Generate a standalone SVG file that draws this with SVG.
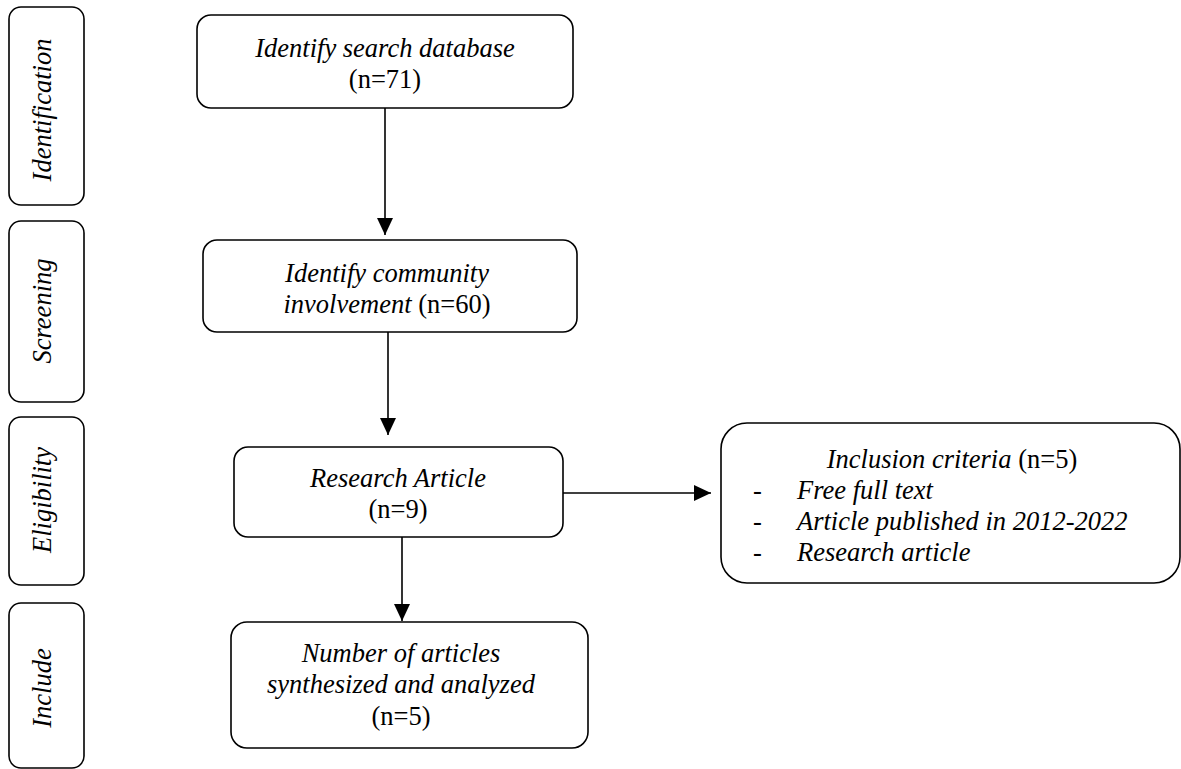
<svg xmlns="http://www.w3.org/2000/svg" width="1181" height="769" viewBox="0 0 1181 769">
<style>
  .box{fill:#fff;stroke:#000;stroke-width:1.6}
  .t{font-family:"Liberation Serif","Times New Roman",serif;font-size:26.5px;fill:#000}
  .i{font-style:italic}
  .c{text-anchor:middle}
  .conn{stroke:#000;stroke-width:1.6;fill:none;marker-end:url(#ah)}
</style>
<defs>
  <marker id="ah" markerUnits="userSpaceOnUse" markerWidth="18" markerHeight="16" refX="17" refY="8" orient="auto">
    <path d="M0,0 L17,8 L0,16 z" fill="#000"/>
  </marker>
</defs>
<rect width="1181" height="769" fill="#fff"/>

<g id="phase-identification">
  <rect class="box" x="9" y="7" width="75" height="198" rx="12"/>
  <text class="t i c" transform="translate(51,110) rotate(-90)">Identification</text>
</g>
<g id="phase-screening">
  <rect class="box" x="9" y="221" width="75" height="181" rx="12"/>
  <text class="t i c" transform="translate(51,311) rotate(-90)">Screening</text>
</g>
<g id="phase-eligibility">
  <rect class="box" x="9" y="417" width="75" height="168" rx="12"/>
  <text class="t i c" transform="translate(51,500) rotate(-90)">Eligibility</text>
</g>
<g id="phase-include">
  <rect class="box" x="9" y="603" width="75" height="165" rx="12"/>
  <text class="t i c" transform="translate(51,688) rotate(-90)">Include</text>
</g>

<g id="connectors">
  <line class="conn" x1="385" y1="108" x2="385" y2="235"/>
  <line class="conn" x1="388" y1="332" x2="388" y2="435"/>
  <line class="conn" x1="563" y1="493" x2="711" y2="493"/>
  <line class="conn" x1="402" y1="537" x2="402" y2="621"/>
</g>

<g id="node-search-database">
  <rect class="box" x="197" y="15" width="376" height="93" rx="14"/>
  <text class="t c" x="385" y="57"><tspan class="i">Identify search database</tspan></text>
  <text class="t c" x="385" y="88">(n=71)</text>
</g>
<g id="node-community-involvement">
  <rect class="box" x="203" y="240" width="374" height="92" rx="14"/>
  <text class="t c" x="387" y="282"><tspan class="i">Identify community</tspan></text>
  <text class="t c" x="387" y="313"><tspan class="i">involvement</tspan> (n=60)</text>
</g>
<g id="node-research-article">
  <rect class="box" x="234" y="447" width="329" height="90" rx="14"/>
  <text class="t c" x="398" y="487"><tspan class="i">Research Article</tspan></text>
  <text class="t c" x="398" y="518">(n=9)</text>
</g>
<g id="node-inclusion-criteria">
  <rect class="box" x="721" y="423" width="459" height="160" rx="26"/>
  <text class="t c" x="952" y="468"><tspan class="i">Inclusion criteria</tspan> (n=5)</text>
  <text class="t" x="753" y="499">-</text>
  <text class="t i" x="797" y="499">Free full text</text>
  <text class="t" x="753" y="530">-</text>
  <text class="t i" x="797" y="530">Article published in 2012-2022</text>
  <text class="t" x="753" y="561">-</text>
  <text class="t i" x="797" y="561">Research article</text>
</g>
<g id="node-articles-analyzed">
  <rect class="box" x="231" y="622" width="357" height="126" rx="16"/>
  <text class="t i c" x="401" y="662">Number of articles</text>
  <text class="t i c" x="401" y="693">synthesized and analyzed</text>
  <text class="t c" x="401" y="725">(n=5)</text>
</g>
</svg>
